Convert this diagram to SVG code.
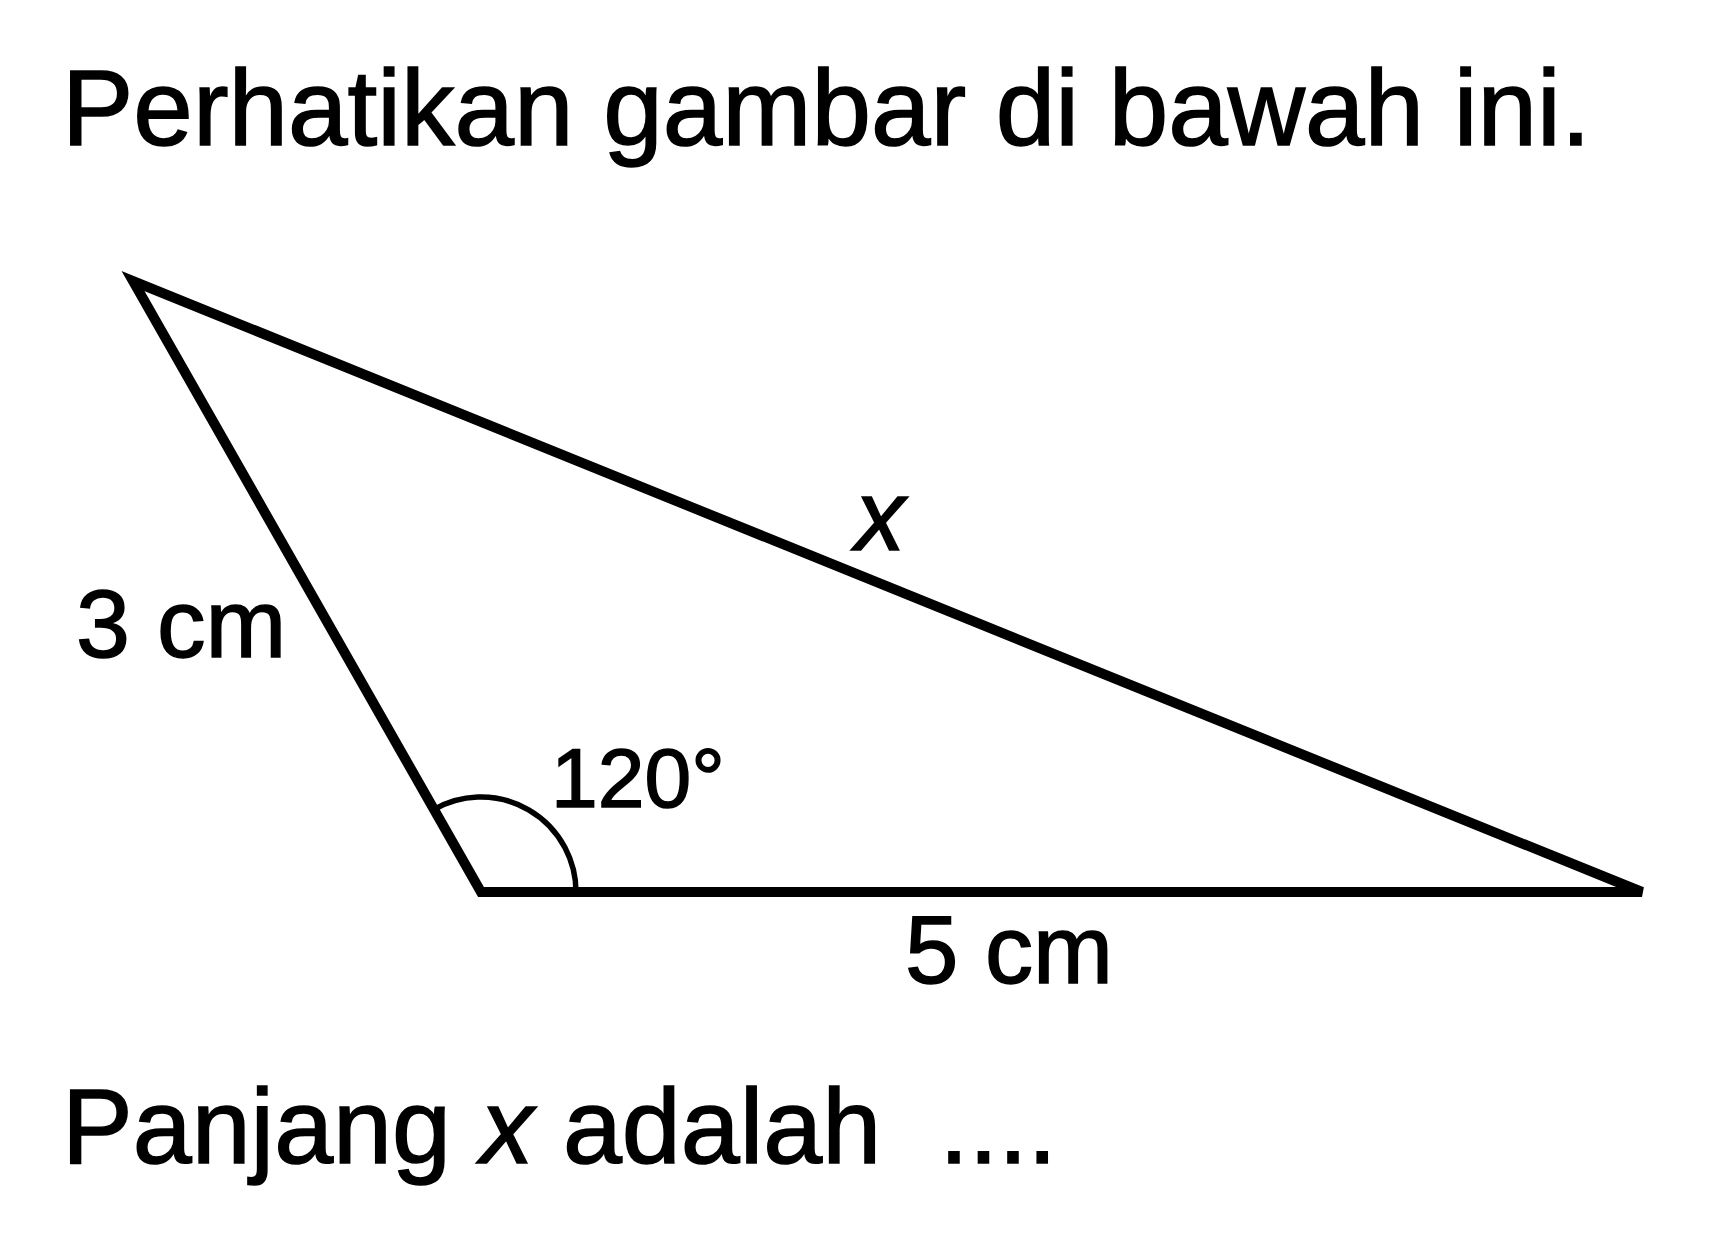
<svg xmlns="http://www.w3.org/2000/svg" width="1713" height="1254" viewBox="0 0 1713 1254">
<style>
  .t { font-family: "Liberation Sans", Arial, sans-serif; fill: #000; stroke: #000; stroke-width: 1.5; }
  .edge { fill: none; stroke: #000; stroke-width: 10; stroke-linejoin: miter; stroke-miterlimit: 4; }
  .arc { fill: none; stroke: #000; stroke-width: 5.5; }
</style>
<rect width="1713" height="1254" fill="#fff"/>
<g id="title">
  <text class="t" x="62" y="145" font-size="107">Perhatikan gambar di bawah ini.</text>
</g>
<g id="triangle">
  <path class="edge" d="M133 281 L481 892 L1642 892 Z"/>
  <path class="arc" d="M433.8 809.6 A95 95 0 0 1 576 892"/>
</g>
<g id="labels">
  <text class="t" x="76" y="657" font-size="97">3 cm</text>
  <text class="t" x="855" y="550" font-size="100" font-style="italic">x</text>
  <text class="t" x="551" y="807" font-size="84">120°</text>
  <text class="t" x="905" y="983" font-size="96">5 cm</text>
</g>
<g id="question">
  <text class="t" x="62" y="1163" font-size="106">Panjang <tspan font-style="italic">x</tspan> adalah<tspan dx="58">....</tspan></text>
</g>
</svg>
